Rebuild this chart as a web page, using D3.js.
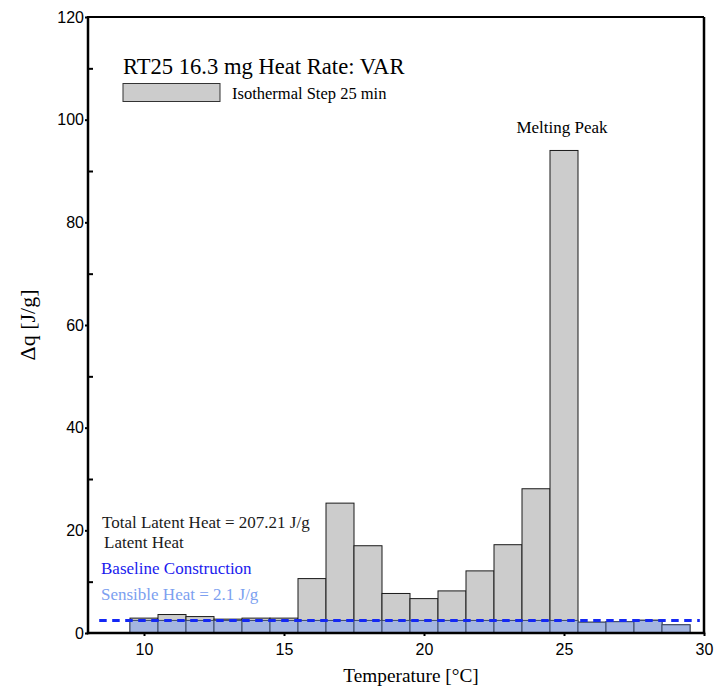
<!DOCTYPE html>
<html>
<head>
<meta charset="utf-8">
<script src="https://cdn.jsdelivr.net/npm/d3@7"></script>
<style>
  html, body { margin: 0; padding: 0; background: #fff; }
  svg { display: block; }
</style>
</head>
<body>
<svg id="chart" width="715" height="687"></svg>
<script>
// Temperature bins (°C), one bar per 1 °C step
const temperatures = [10, 11, 12, 13, 14, 15, 16, 17, 18, 19, 20, 21, 22, 23, 24, 25, 26, 27, 28, 29];
// Heat released per step, Δq [J/g]
const deltaQ = [2.9, 3.6, 3.2, 2.7, 2.9, 2.9, 10.6, 25.3, 17.0, 7.7, 6.7, 8.2, 12.1, 17.2, 28.1, 94.0, 2.1, 2.2, 2.5, 1.6];
// Sensible-heat baseline level (J/g) and its span in °C
const baselineLevel = 2.45;
const baselineSpan = [8.4, 29.85];
// Axis ticks
const yMajorTicks = [0, 20, 40, 60, 80, 100, 120];
const yMinorTicks = [10, 30, 50, 70, 90, 110];
const xTicks = [10, 15, 20, 25, 30];

const svg = d3.select("#chart");
const plotLeft = 88, plotRight = 704, plotTop = 17, plotBottom = 633;

const x = d3.scaleLinear().domain([8, 30]).range([plotLeft, plotRight]);
const y = d3.scaleLinear().domain([0, 120]).range([plotBottom, plotTop]);

const serif = "'Liberation Serif', 'Times New Roman', serif";
const sans = "'Liberation Sans', Arial, sans-serif";

const bins = temperatures.map((t, i) => ({ t, q: deltaQ[i] }));

// Gray step bars
svg.append("g").selectAll("rect").data(bins).join("rect")
  .attr("x", d => x(d.t - 0.5))
  .attr("width", d => x(d.t + 0.5) - x(d.t - 0.5))
  .attr("y", d => y(d.q))
  .attr("height", d => y(0) - y(d.q))
  .attr("fill", "#cccccc")
  .attr("stroke", "#1a1a1a")
  .attr("stroke-width", 1);

// Sensible heat portion below the baseline
svg.append("g").selectAll("rect").data(bins).join("rect")
  .attr("x", d => x(d.t - 0.5))
  .attr("width", d => x(d.t + 0.5) - x(d.t - 0.5))
  .attr("y", d => y(Math.min(d.q, baselineLevel)))
  .attr("height", d => y(0) - y(Math.min(d.q, baselineLevel)))
  .attr("fill", "#a3b5e0")
  .attr("stroke", "#3c4a68")
  .attr("stroke-width", 1);

// Baseline construction (dashed)
svg.append("line")
  .attr("x1", x(baselineSpan[0])).attr("x2", x(baselineSpan[1]))
  .attr("y1", y(baselineLevel)).attr("y2", y(baselineLevel))
  .attr("stroke", "#1428f5")
  .attr("stroke-width", 3)
  .attr("stroke-dasharray", "7.5,5.5");

// Axes
const yAxis = svg.append("g")
  .attr("transform", `translate(${plotLeft},0)`)
  .call(d3.axisLeft(y).tickValues(yMajorTicks).tickSize(3).tickPadding(1));
const yMinor = svg.append("g")
  .attr("transform", `translate(${plotLeft},0)`)
  .call(d3.axisLeft(y).tickValues(yMinorTicks).tickSize(-5).tickFormat(""));
const xAxis = svg.append("g")
  .attr("transform", `translate(0,${plotBottom})`)
  .call(d3.axisBottom(x).tickValues(xTicks).tickSize(3).tickPadding(8));

[yAxis, yMinor, xAxis].forEach(g => {
  g.select(".domain").remove();
  g.selectAll(".tick line").attr("stroke", "#000").attr("stroke-width", 2);
  g.selectAll(".tick text").attr("font-family", sans).attr("font-size", 16).attr("fill", "#000");
});

// Frame
svg.append("line").attr("x1", plotLeft).attr("x2", plotRight).attr("y1", plotTop).attr("y2", plotTop)
  .attr("stroke", "#000").attr("stroke-width", 2);
svg.append("line").attr("x1", plotRight).attr("x2", plotRight).attr("y1", plotTop).attr("y2", plotBottom)
  .attr("stroke", "#000").attr("stroke-width", 2.5);
svg.append("line").attr("x1", plotLeft).attr("x2", plotLeft).attr("y1", plotTop - 1).attr("y2", plotBottom + 1.2)
  .attr("stroke", "#000").attr("stroke-width", 2.5);
svg.append("line").attr("x1", plotLeft - 1.2).attr("x2", plotRight + 1.2).attr("y1", plotBottom).attr("y2", plotBottom)
  .attr("stroke", "#000").attr("stroke-width", 2.5);

// Axis titles
svg.append("text")
  .attr("x", 411).attr("y", 682)
  .attr("text-anchor", "middle")
  .attr("font-family", serif).attr("font-size", 19.3)
  .text("Temperature [°C]");
svg.append("text")
  .attr("transform", `translate(35,325) rotate(-90)`)
  .attr("text-anchor", "middle")
  .attr("font-family", serif).attr("font-size", 22)
  .text("Δq [J/g]");

// Title and legend
svg.append("text")
  .attr("x", 123).attr("y", 74)
  .attr("font-family", serif).attr("font-size", 22.6)
  .text("RT25 16.3 mg Heat Rate: VAR");
svg.append("rect")
  .attr("x", 123).attr("y", 83.5).attr("width", 97).attr("height", 18)
  .attr("fill", "#cccccc").attr("stroke", "#333").attr("stroke-width", 1);
svg.append("text")
  .attr("x", 232).attr("y", 99)
  .attr("font-family", serif).attr("font-size", 16.5)
  .text("Isothermal Step 25 min");

// Peak label
svg.append("text")
  .attr("x", 562).attr("y", 133)
  .attr("text-anchor", "middle")
  .attr("font-family", serif).attr("font-size", 17)
  .text("Melting Peak");

// Heat summary annotations
const notes = [
  { text: "Total Latent Heat = 207.21 J/g", x: 102, y: 528, color: "#1a1a1a" },
  { text: "Latent Heat", x: 104, y: 548, color: "#1a1a1a" },
  { text: "Baseline Construction", x: 101, y: 574, color: "#1a1aee" },
  { text: "Sensible Heat = 2.1 J/g", x: 101, y: 600, color: "#7c9ff0" }
];
svg.append("g").selectAll("text").data(notes).join("text")
  .attr("x", d => d.x).attr("y", d => d.y)
  .attr("font-family", serif).attr("font-size", 17)
  .attr("fill", d => d.color)
  .text(d => d.text);
</script>
</body>
</html>
